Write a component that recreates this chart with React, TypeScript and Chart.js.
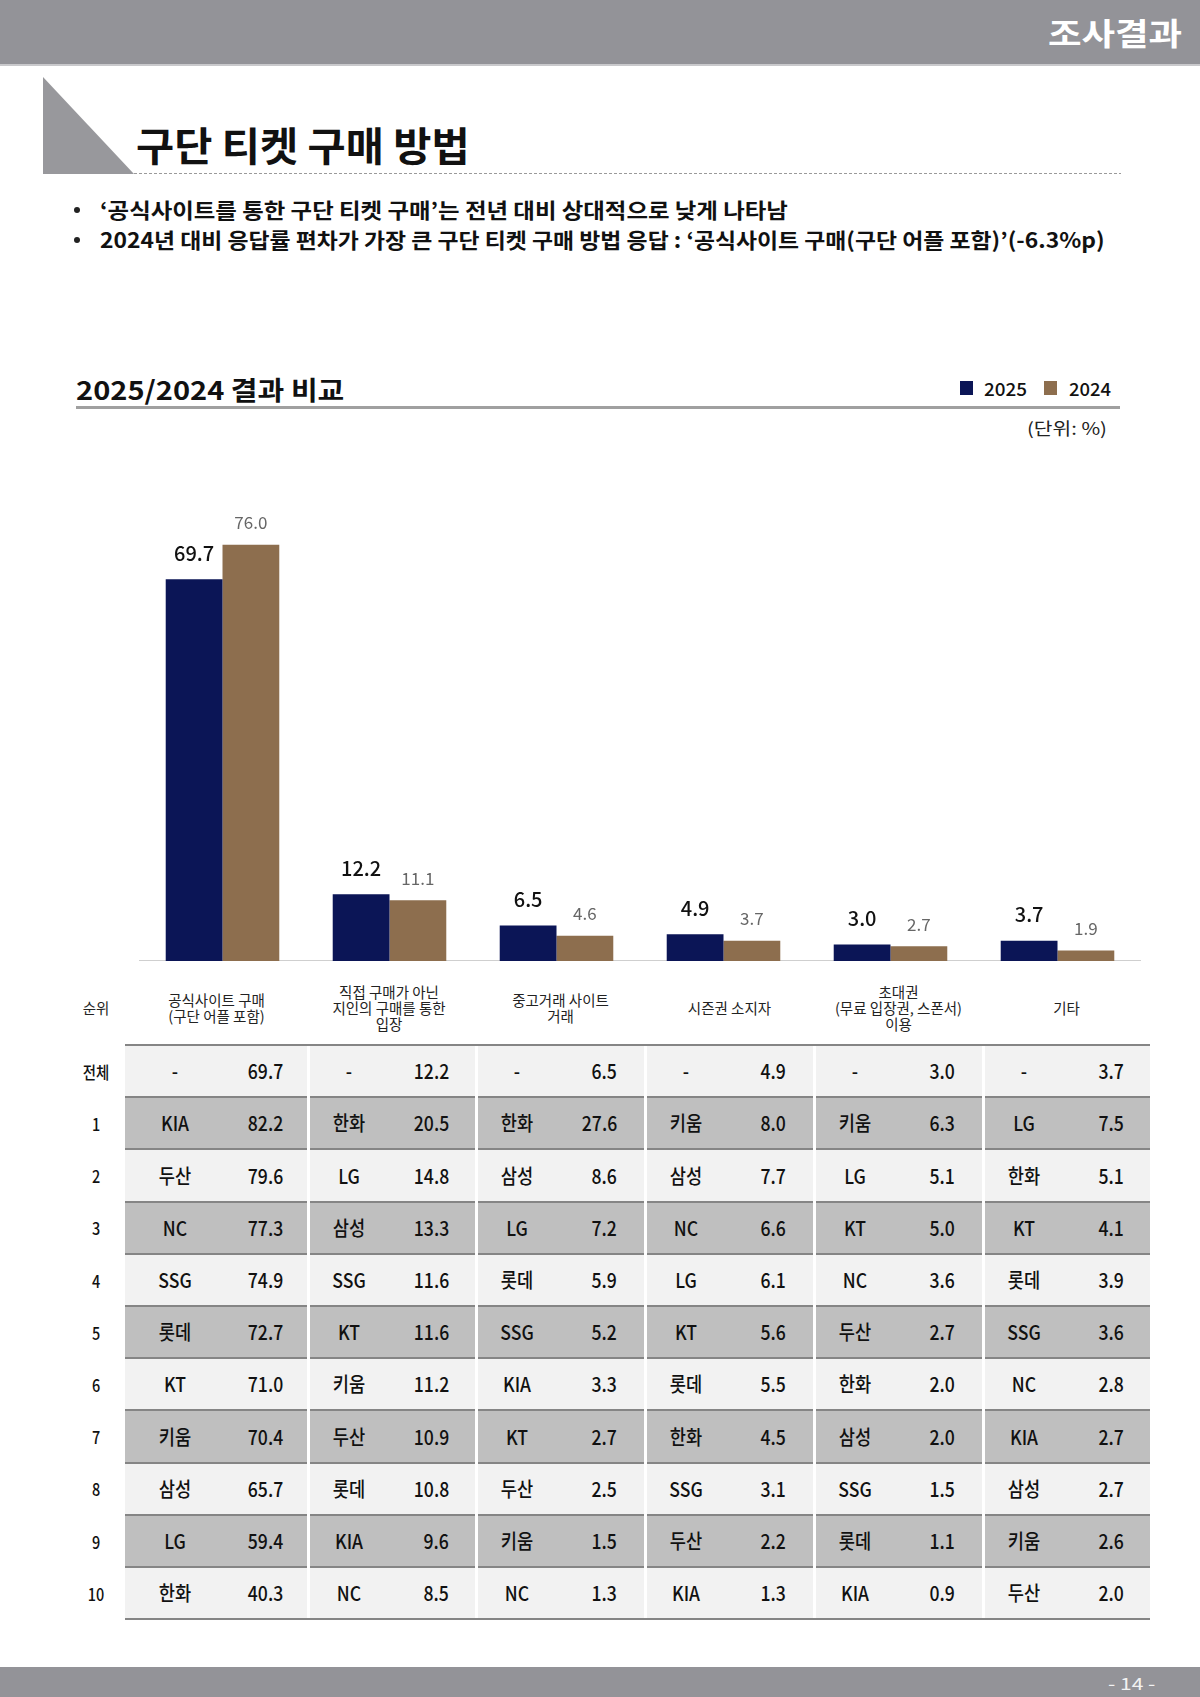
import React, { useEffect, useLayoutEffect, useRef } from 'react';
import { Chart, registerables } from 'chart.js';

Chart.register(...registerables);

// ---------- data ----------
const seriesLabels = ['2025', '2024'];
const categoryLines = [
  ['공식사이트 구매', '(구단 어플 포함)'],
  ['직접 구매가 아닌', '지인의 구매를 통한', '입장'],
  ['중고거래 사이트', '거래'],
  ['시즌권 소지자'],
  ['초대권', '(무료 입장권, 스폰서)', '이용'],
  ['기타'],
];
const values2025 = [69.7, 12.2, 6.5, 4.9, 3.0, 3.7];
const values2024 = [76.0, 11.1, 4.6, 3.7, 2.7, 1.9];

const rankLabels = ['전체', '1', '2', '3', '4', '5', '6', '7', '8', '9', '10'];
const teamsCol1 = ['-', 'KIA', '두산', 'NC', 'SSG', '롯데', 'KT', '키움', '삼성', 'LG', '한화'];
const valuesCol1 = [69.7, 82.2, 79.6, 77.3, 74.9, 72.7, 71.0, 70.4, 65.7, 59.4, 40.3];
const teamsCol2 = ['-', '한화', 'LG', '삼성', 'SSG', 'KT', '키움', '두산', '롯데', 'KIA', 'NC'];
const valuesCol2 = [12.2, 20.5, 14.8, 13.3, 11.6, 11.6, 11.2, 10.9, 10.8, 9.6, 8.5];
const teamsCol3 = ['-', '한화', '삼성', 'LG', '롯데', 'SSG', 'KIA', 'KT', '두산', '키움', 'NC'];
const valuesCol3 = [6.5, 27.6, 8.6, 7.2, 5.9, 5.2, 3.3, 2.7, 2.5, 1.5, 1.3];
const teamsCol4 = ['-', '키움', '삼성', 'NC', 'LG', 'KT', '롯데', '한화', 'SSG', '두산', 'KIA'];
const valuesCol4 = [4.9, 8.0, 7.7, 6.6, 6.1, 5.6, 5.5, 4.5, 3.1, 2.2, 1.3];
const teamsCol5 = ['-', '키움', 'LG', 'KT', 'NC', '두산', '한화', '삼성', 'SSG', '롯데', 'KIA'];
const valuesCol5 = [3.0, 6.3, 5.1, 5.0, 3.6, 2.7, 2.0, 2.0, 1.5, 1.1, 0.9];
const teamsCol6 = ['-', 'LG', '한화', 'KT', '롯데', 'SSG', 'NC', 'KIA', '삼성', '키움', '두산'];
const valuesCol6 = [3.7, 7.5, 5.1, 4.1, 3.9, 3.6, 2.8, 2.7, 2.7, 2.6, 2.0];

const tableTeams = [teamsCol1, teamsCol2, teamsCol3, teamsCol4, teamsCol5, teamsCol6];
const tableValues = [valuesCol1, valuesCol2, valuesCol3, valuesCol4, valuesCol5, valuesCol6];

// ---------- style ----------
const FONT = '"Noto Sans CJK KR", "Noto Sans", sans-serif';
const NAVY = '#0b1556';
const BROWN = '#8d6e4e';
const GRAY_BAR = '#939398';

Chart.defaults.font.family = FONT;

function FitText(props: {
  x: number; cy: number; w: number; size: number; weight?: number; color?: string; children: React.ReactNode;
}) {
  const { x, cy, w, size, weight = 400, color = '#111', children } = props;
  const ref = useRef<HTMLSpanElement>(null);
  useLayoutEffect(() => {
    const el = ref.current;
    if (!el) return;
    el.style.transform = 'none';
    const nat = el.offsetWidth;
    if (nat > 0) el.style.transform = `scaleX(${w / nat})`;
  });
  return (
    <span
      ref={ref}
      style={{
        position: 'absolute', left: x, top: cy - size * 0.55, fontSize: size, fontWeight: weight, color,
        whiteSpace: 'nowrap', lineHeight: 1, display: 'inline-block', transformOrigin: 'left center',
      }}
    >
      {children}
    </span>
  );
}

const labelPlugin = {
  id: 'barValueLabels',
  afterDatasetsDraw(chart: any) {
    const ctx = chart.ctx;
    chart.data.datasets.forEach((ds: any, i: number) => {
      const meta = chart.getDatasetMeta(i);
      meta.data.forEach((bar: any, j: number) => {
        ctx.save();
        ctx.font = i === 0 ? `500 20px ${FONT}` : `400 17px ${FONT}`;
        ctx.fillStyle = i === 0 ? '#111111' : '#666666';
        ctx.textAlign = 'center';
        ctx.textBaseline = 'middle';
        ctx.fillText(Number(ds.data[j]).toFixed(1), bar.x, bar.y - (i === 0 ? 26 : 22));
        ctx.restore();
      });
    });
  },
};

function BarChart() {
  const ref = useRef<HTMLCanvasElement>(null);
  useEffect(() => {
    if (!ref.current) return;
    const chart = new Chart(ref.current, {
      type: 'bar',
      data: {
        labels: categoryLines.map((l) => l.join(' ')),
        datasets: [
          { label: seriesLabels[0], data: values2025, backgroundColor: NAVY, categoryPercentage: 0.68, barPercentage: 1 },
          { label: seriesLabels[1], data: values2024, backgroundColor: BROWN, categoryPercentage: 0.68, barPercentage: 1 },
        ],
      },
      options: {
        animation: false,
        responsive: false,
        maintainAspectRatio: false,
        layout: { padding: 0 },
        plugins: { legend: { display: false }, tooltip: { enabled: false } },
        scales: {
          x: {
            grid: { display: false, drawTicks: false },
            ticks: { display: false },
            border: { display: true, color: '#cfcfcf', width: 1.5 },
          },
          y: { display: false, min: 0, max: 90 },
        },
      },
      plugins: [labelPlugin],
    });
    return () => chart.destroy();
  }, []);
  return (
    <div style={{ position: 'absolute', left: 139, top: 468, width: 1002, height: 493 }}>
      <canvas ref={ref} width={1002} height={493} style={{ display: 'block' }} />
    </div>
  );
}

const colLefts = [125, 308, 476, 645, 814, 983];
const colRights = [308, 476, 645, 814, 983, 1150];
const TABLE_TOP = 1045;
const ROW_H = 52.2;

function Table() {
  const els: React.ReactNode[] = [];
  // header
  els.push(
    <span key="rankHead" style={{ position: 'absolute', left: 96, top: 1008, transform: 'translate(-50%,-50%)', fontSize: 14.5, color: '#222', whiteSpace: 'nowrap', lineHeight: 1 }}>
      순위
    </span>
  );
  categoryLines.forEach((lines, c) => {
    const cx = (colLefts[c] + colRights[c]) / 2 + (c === 1 ? -3 : 0);
    els.push(
      <div key={'h' + c} style={{ position: 'absolute', left: cx, top: 1008, transform: 'translate(-50%,-50%)', textAlign: 'center', fontSize: 14.5, lineHeight: '16px', color: '#222', whiteSpace: 'nowrap' }}>
        {lines.map((t, k) => (<div key={k}>{t}</div>))}
      </div>
    );
  });
  // rows
  rankLabels.forEach((rl, r) => {
    const top = TABLE_TOP + r * ROW_H;
    const cy = top + ROW_H / 2 + 1;
    const bg = r > 0 && r % 2 === 1 ? '#bfbfbf' : '#f2f2f2';
    els.push(<div key={'bg' + r} style={{ position: 'absolute', left: 125, top, width: 1150 - 125, height: ROW_H, background: bg }} />);
    els.push(<div key={'ln' + r} style={{ position: 'absolute', left: 125, top: top - 1, width: 1150 - 125, height: 2, background: '#858585' }} />);
    els.push(
      <span key={'rk' + r} style={{ position: 'absolute', left: 96, top: cy - 17 * 0.55, transform: 'translateX(-50%) scaleX(0.85)', fontSize: 17, fontWeight: 500, color: '#111', whiteSpace: 'nowrap', lineHeight: 1 }}>
        {rl}
      </span>
    );
    tableTeams.forEach((teams, c) => {
      const nameX = c === 0 ? 175 : colLefts[c] + 41;
      const valR = c === 0 ? 283 : colLefts[c] + 141;
      els.push(
        <span key={'t' + r + '_' + c} style={{ position: 'absolute', left: nameX, top: cy - 20 * 0.55, transform: 'translateX(-50%) scaleX(0.88)', fontSize: 20, fontWeight: 500, color: '#111', whiteSpace: 'nowrap', lineHeight: 1 }}>
          {teams[r]}
        </span>
      );
      els.push(
        <span key={'v' + r + '_' + c} style={{ position: 'absolute', right: 1200 - valR, top: cy - 20 * 0.55, transform: 'scaleX(0.88)', transformOrigin: 'right center', fontSize: 20, fontWeight: 500, color: '#111', whiteSpace: 'nowrap', lineHeight: 1 }}>
          {tableValues[c][r].toFixed(1)}
        </span>
      );
    });
  });
  const bottom = TABLE_TOP + rankLabels.length * ROW_H;
  els.push(<div key="lnb" style={{ position: 'absolute', left: 125, top: bottom - 1, width: 1150 - 125, height: 2, background: '#858585' }} />);
  colLefts.slice(1).forEach((x, i) => {
    els.push(<div key={'cs' + i} style={{ position: 'absolute', left: x - 1.5, top: TABLE_TOP + 1, width: 3, height: bottom - TABLE_TOP - 2, background: '#ffffff' }} />);
  });
  return <>{els}</>;
}

export default function App() {
  return (
    <div style={{ position: 'absolute', left: 0, top: 0, width: 1200, height: 1697, background: '#fff', fontFamily: FONT, overflow: 'hidden' }}>
      {/* header bar */}
      <div style={{ position: 'absolute', left: 0, top: 0, width: 1200, height: 64, background: GRAY_BAR }} />
      <div style={{ position: 'absolute', left: 0, top: 64, width: 1200, height: 2, background: '#c9c9cc' }} />
      <FitText x={1048} cy={33} w={134} size={31} weight={700} color="#ffffff">조사결과</FitText>

      {/* title */}
      <svg style={{ position: 'absolute', left: 0, top: 0 }} width={1200} height={200}>
        <polygon points="43,77 43,174 134,174" fill="#98989c" />
        <line x1={134} y1={173.5} x2={1121} y2={173.5} stroke="#9a9a9a" strokeWidth={1} strokeDasharray="3 2" />
      </svg>
      <FitText x={136} cy={146} w={334} size={40} weight={700} color="#111">구단 티켓 구매 방법</FitText>

      {/* bullets */}
      <div style={{ position: 'absolute', left: 74, top: 207, width: 6, height: 6, borderRadius: 3, background: '#222' }} />
      <div style={{ position: 'absolute', left: 74, top: 237, width: 6, height: 6, borderRadius: 3, background: '#222' }} />
      <FitText x={100} cy={211} w={688} size={21} weight={700} color="#111">
        ‘공식사이트를 통한 구단 티켓 구매’는 전년 대비 상대적으로 낮게 나타남
      </FitText>
      <FitText x={100} cy={241} w={1005} size={21} weight={700} color="#111">
        2024년 대비 응답률 편차가 가장 큰 구단 티켓 구매 방법 응답 : ‘공식사이트 구매(구단 어플 포함)’(-6.3%p)
      </FitText>

      {/* section title */}
      <FitText x={76} cy={390} w={268} size={26} weight={700} color="#111">2025/2024 결과 비교</FitText>
      <div style={{ position: 'absolute', left: 76, top: 406, width: 1044, height: 3, background: '#a0a0a0' }} />

      {/* legend */}
      <div style={{ position: 'absolute', left: 960, top: 381, width: 13, height: 14, background: NAVY }} />
      <FitText x={984} cy={389} w={43} size={18} weight={500} color="#111">{seriesLabels[0]}</FitText>
      <div style={{ position: 'absolute', left: 1044, top: 381, width: 13, height: 14, background: BROWN }} />
      <FitText x={1069} cy={389} w={42} size={18} weight={500} color="#111">{seriesLabels[1]}</FitText>

      <FitText x={1027} cy={428} w={80} size={17} weight={400} color="#222">(단위: %)</FitText>

      <BarChart />
      <Table />

      {/* footer */}
      <div style={{ position: 'absolute', left: 0, top: 1667, width: 1200, height: 30, background: GRAY_BAR }} />
      <FitText x={1108} cy={1683} w={47} size={17} weight={400} color="#f2f2f2">- 14 -</FitText>
    </div>
  );
}
